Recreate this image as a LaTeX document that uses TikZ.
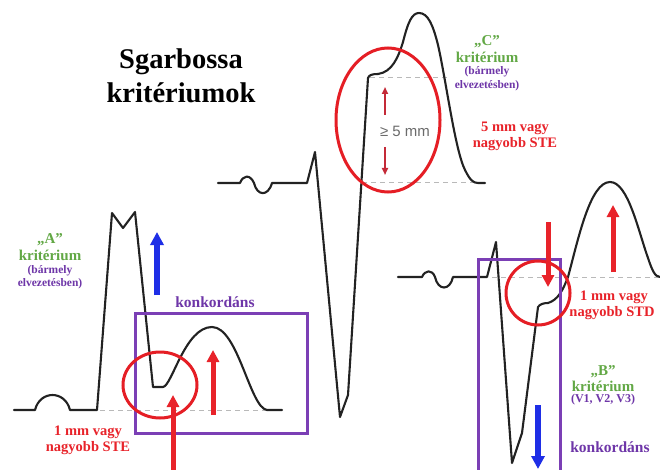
\documentclass[tikz,border=0pt]{standalone}
\usepackage{fontspec}
\setmainfont{Liberation Serif}
\newfontfamily\arialfont{Liberation Sans}
\usetikzlibrary{arrows.meta}
\definecolor{ecgred}{HTML}{E8232A}
\definecolor{ringred}{HTML}{E51E25}
\definecolor{darkred}{HTML}{C42A38}
\definecolor{ecgblue}{HTML}{1E2EE6}
\definecolor{critgreen}{HTML}{62A845}
\definecolor{critpurple}{HTML}{6E36A8}
\definecolor{boxpurple}{HTML}{7B3FB5}
\definecolor{wave}{HTML}{222222}
\tikzset{
  ecg/.style={draw=wave, line width=2.1pt, line join=round, line cap=round},
  baseln/.style={draw=gray!55, line width=1pt, dash pattern=on 5pt off 4pt},
  ring/.style={draw=ringred, line width=3pt},
  pbox/.style={draw=boxpurple, line width=3pt},
  fatred/.style={draw=ecgred, line width=5pt, -{Triangle[width=12pt,length=12pt]}},
  fatblue/.style={draw=ecgblue, line width=5.5pt, -{Triangle[width=13pt,length=13pt]}},
  thinred/.style={draw=darkred, line width=2.2pt, -{Triangle[width=6pt,length=7pt]}},
  lblg/.style={text=critgreen, font=\bfseries\fontsize{15}{16}\selectfont, inner sep=0pt},
  lblp/.style={text=critpurple, font=\bfseries\fontsize{11.5}{12}\selectfont, inner sep=0pt},
  lblr/.style={text=ecgred, font=\bfseries\fontsize{14.5}{15}\selectfont, inner sep=0pt},
  lblk/.style={text=critpurple, font=\bfseries\fontsize{15.5}{16}\selectfont, inner sep=0pt},
  ttl/.style={text=black, font=\bfseries\fontsize{28.5}{30}\selectfont, inner sep=0pt}
}
\begin{document}
\begin{tikzpicture}[x=1pt,y=-1pt]
\useasboundingbox (0,0) rectangle (660,470);
\clip (0,0) rectangle (660,470);
\fill[white] (0,0) rectangle (660,470);

% title
\node[ttl] (t1) at (181,62) {Sgarbossa};
\node[ttl] (t2) at (181,93) {kritériumok};

% ---------- A ----------
\draw[baseln] (100,410) -- (267,410);
\draw[ecg] (14,410) -- (35,410) .. controls (40,390) and (65,390) .. (70,410) -- (97,410)
  -- (112,213) -- (123,228) -- (135,212) -- (153,387) -- (163,387)
  .. controls (172,386) and (185,327) .. (212,327)
  .. controls (238,327) and (250,408) .. (267,410) -- (282,410);
\draw[pbox] (135,313) rectangle (307,433);
\draw[ring] (160,385) ellipse [x radius=37, y radius=33];
\coordinate (ab1) at (157,295); \coordinate (ab2) at (157,232);
\draw[fatblue] (ab1) -- (ab2);
\coordinate (ar1) at (213,415); \coordinate (ar2) at (213,350);
\draw[fatred] (ar1) -- (ar2);
\coordinate (ar3) at (173,470); \coordinate (ar4) at (173,395);
\draw[fatred] (ar3) -- (ar4);
\node[lblg] (a1) at (50,240) {„A”};
\node[lblg] (a2) at (50,255) {kritérium};
\node[lblp] (a3) at (50,271) {(bármely};
\node[lblp] (a4) at (50,284) {elvezetésben)};
\node[lblk] (a5) at (215,302) {konkordáns};
\node[lblr] (a6) at (88,432) {1 mm vagy};
\node[lblr] (a7) at (88,448) {nagyobb STE};

% ---------- C ----------
\draw[baseln] (370,78) -- (447,78);
\draw[baseln] (362,183) -- (477,183);
\draw[ecg] (218,183) -- (240,183)
  .. controls (243,175) and (250,174) .. (254,183)
  .. controls (257,196) and (268,197) .. (272,183) -- (307,183)
  -- (315,152) -- (340,417) -- (348,395) -- (368,78)
  .. controls (369,75) and (372,74) .. (378,74)
  .. controls (392,72) and (398,58) .. (403,42)
  .. controls (408,22) and (412,13) .. (419,13)
  .. controls (428,13) and (433,25) .. (438,45)
  .. controls (446,80) and (455,150) .. (465,170)
  .. controls (470,180) and (473,183) .. (478,183) -- (485,183);
\draw[ring] (388,120) ellipse [x radius=52, y radius=72];
\coordinate (c1) at (385,115); \coordinate (c2) at (385,87);
\coordinate (c3) at (385,147); \coordinate (c4) at (385,175);
\draw[thinred] (c1) -- (c2);
\draw[thinred] (c3) -- (c4);
\node[text=black!58, font=\arialfont\fontsize{15}{16}\selectfont, inner sep=0pt] (c5) at (405,131) {≥ 5 mm};
\node[lblg] (c6) at (487,42) {„C”};
\node[lblg] (c7) at (487,57) {kritérium};
\node[lblp] (c8) at (487,72) {(bármely};
\node[lblp] (c9) at (487,86) {elvezetésben)};
\node[lblr] (c10) at (515,128) {5 mm vagy};
\node[lblr] (c11) at (515,144) {nagyobb STE};

% ---------- B ----------
\draw[baseln] (492,277) -- (660,277);
\draw[ecg] (398,277) -- (422,277)
  .. controls (425,270) and (432,269) .. (435,277)
  .. controls (438,291) and (450,291) .. (453,277) -- (487,277)
  -- (496,242) -- (512,463) -- (522,433) -- (538,307)
  .. controls (540,304) and (544,303) .. (548,303)
  .. controls (558,300) and (563,290) .. (568,277)
  .. controls (578,240) and (590,182) .. (610,182)
  .. controls (628,182) and (638,230) .. (648,258)
  .. controls (652,270) and (655,277) .. (660,277);
\draw[pbox] (478,480) -- (478,259) -- (560,259) -- (560,480);
\draw[ring] (538,293) circle [radius=32];
\coordinate (b1) at (548,222); \coordinate (b2) at (548,287);
\draw[fatred] (b1) -- (b2);
\coordinate (b3) at (613,272); \coordinate (b4) at (613,205);
\draw[fatred] (b3) -- (b4);
\coordinate (b5) at (538,405); \coordinate (b6) at (538,469);
\draw[fatblue] (b5) -- (b6);
\node[lblr] (b7) at (614,297) {1 mm vagy};
\node[lblr] (b8) at (612,313) {nagyobb STD};
\node[lblg] (b9) at (603,372) {„B”};
\node[lblg] (b10) at (603,386) {kritérium};
\node[lblp, font=\bfseries\fontsize{12}{13}\selectfont] (b11) at (603,400) {(V1, V2, V3)};
\node[lblk] (b12) at (610,447) {konkordáns};
\end{tikzpicture}
\end{document}
